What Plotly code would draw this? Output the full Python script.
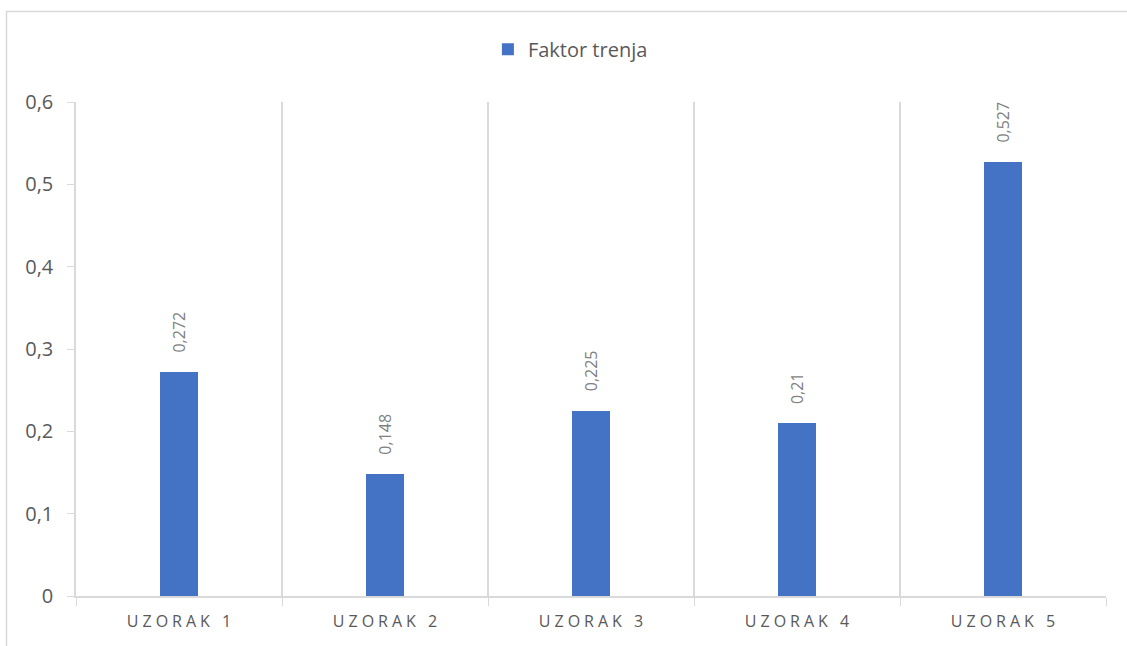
import plotly.graph_objects as go

categories = ["UZORAK 1", "UZORAK 2", "UZORAK 3", "UZORAK 4", "UZORAK 5"]
faktor_trenja = [0.272, 0.148, 0.225, 0.21, 0.527]
y_ticks = [0, 0.1, 0.2, 0.3, 0.4, 0.5, 0.6]

# letter-spaced category captions
spaced = ["\u2005".join(list(c)) for c in categories]
y_labels = [("%g" % v).replace(".", ",") for v in y_ticks]
bar_labels = [("%g" % v).replace(".", ",") for v in faktor_trenja]

grid = "#d9d9d9"
txt = "#595959"

fig = go.Figure()
fig.add_trace(go.Bar(
    x=categories, y=faktor_trenja, name="Faktor trenja",
    marker=dict(color="#4472c4", line=dict(width=0)),
    width=0.184,
))

for c, v, lab in zip(categories, faktor_trenja, bar_labels):
    fig.add_annotation(
        x=c, y=v, text=lab, textangle=-90, showarrow=False,
        xanchor="center", yanchor="bottom", yshift=17,
        font=dict(family="Open Sans", size=16, color="#7f7f7f"),
    )

fig.update_layout(
    width=1127, height=646,
    margin=dict(l=76, r=21, t=102, b=50),
    paper_bgcolor="white", plot_bgcolor="white",
    font=dict(family="Open Sans", color=txt),
    showlegend=True,
    legend=dict(orientation="h", x=0.48, xanchor="center", y=1.107, yanchor="middle",
                font=dict(size=20, color=txt)),
    bargap=0,
    xaxis=dict(
        type="category", tickvals=categories, ticktext=spaced,
        tickson="boundaries", ticks="outside", ticklen=8, tickcolor=grid,
        showgrid=True, gridcolor=grid, gridwidth=1.5,
        showline=True, linecolor=grid, linewidth=1.5,
        tickfont=dict(size=16, color=txt), ticklabelstandoff=10,
        range=[-0.5, 4.5],
    ),
    yaxis=dict(
        range=[0, 0.6], tickvals=y_ticks, ticktext=y_labels,
        showgrid=False, zeroline=False,
        showline=True, linecolor=grid, linewidth=1.5,
        ticks="outside", ticklen=7, tickcolor=grid,
        tickfont=dict(size=20, color=txt), ticklabelstandoff=10,
    ),
    shapes=[dict(type="rect", xref="paper", yref="paper",
                 x0=(6.5 - 76) / 1030, x1=(1135 - 76) / 1030,
                 y0=-0.2, y1=(596 - 11.5) / 494,
                 line=dict(color=grid, width=1.5), fillcolor="rgba(0,0,0,0)", layer="below")],
)

fig.write_html("out.html")
